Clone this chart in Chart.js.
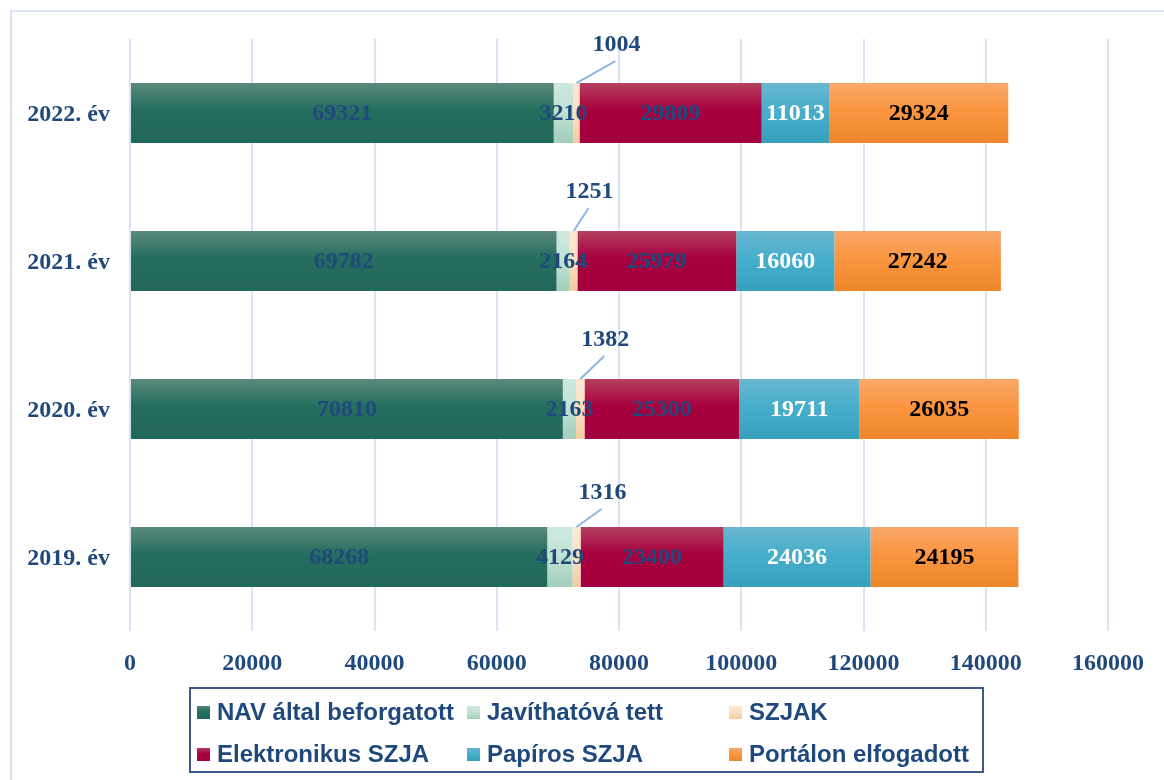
<!DOCTYPE html>
<html>
<head>
<meta charset="utf-8">
<script src="https://cdn.jsdelivr.net/npm/chart.js@4.4.0/dist/chart.umd.min.js"></script>
<style>
body { margin: 0; background: #fff; }
#frame { position: absolute; left: 10px; top: 10px; width: 1200px; height: 800px; border: 2px solid #dae3f3; }
#wrap { position: absolute; left: 0; top: 0; width: 1164px; height: 780px; }
</style>
</head>
<body>
<div id="frame"></div>
<div id="wrap"><canvas id="chart" width="1164" height="780"></canvas></div>
<script>
// Chart data
const years = ['2022. év', '2021. év', '2020. év', '2019. év'];
const seriesNames = ['NAV által beforgatott', 'Javíthatóvá tett', 'SZJAK', 'Elektronikus SZJA', 'Papíros SZJA', 'Portálon elfogadott'];
const navData = [69321, 69782, 70810, 68268];
const javitData = [3210, 2164, 2163, 4129];
const szjakData = [1004, 1251, 1382, 1316];
const elektData = [29809, 25979, 25300, 23400];
const papirData = [11013, 16060, 19711, 24036];
const portalData = [29324, 27242, 26035, 24195];
const xTicks = [0, 20000, 40000, 60000, 80000, 100000, 120000, 140000, 160000];

const BLUE = '#1f497d';
const SERIF = '"Liberation Serif", "Times New Roman", serif';
const SANS = '"Liberation Sans", Arial, sans-serif';
const BAR_PCT = 0.405;

// top / middle / bottom colours for the bar gradients
const palette = [
    ['#5a8a7c', '#246e5f', '#22685a'],
    ['#cde9dd', '#c2e3d5', '#a3cdbb'],
    ['#fde8d2', '#fde0c2', '#f2cda2'],
    ['#b4405f', '#a8003f', '#a5003f'],
    ['#6ab7d0', '#47aecb', '#389fbd'],
    ['#f9a76a', '#fb9641', '#ec8629']
];
const labelColors = [BLUE, BLUE, BLUE, BLUE, '#ffffff', '#000000'];

function barGradient(colors) {
    return function(ctx) {
        const chart = ctx.chart;
        const y = chart.scales && chart.scales.y;
        if (!chart.chartArea || !y || ctx.dataIndex === undefined) return colors[1];
        const c = y.getPixelForValue(ctx.dataIndex);
        const h = (y.height / years.length) * BAR_PCT / 2;
        const g = chart.ctx.createLinearGradient(0, c - h, 0, c + h);
        g.addColorStop(0, colors[0]);
        g.addColorStop(0.45, colors[1]);
        g.addColorStop(1, colors[2]);
        return g;
    };
}

const allSeries = [navData, javitData, szjakData, elektData, papirData, portalData];
const datasets = allSeries.map((d, i) => ({
    label: seriesNames[i],
    data: d,
    backgroundColor: barGradient(palette[i]),
    borderWidth: 0,
    barPercentage: BAR_PCT,
    categoryPercentage: 1
}));

// Value labels, with the small SZJAK values placed above the bar
const valueLabels = {
    id: 'valueLabels',
    afterDatasetsDraw(chart, args, opts) {
        const ctx = chart.ctx;
        ctx.save();
        ctx.font = 'bold 24px ' + SERIF;
        ctx.textAlign = 'center';
        ctx.textBaseline = 'middle';
        chart.data.datasets.forEach((ds, i) => {
            const meta = chart.getDatasetMeta(i);
            meta.data.forEach((el, j) => {
                const cx = (el.x + el.base) / 2;
                const val = ds.data[j];
                if (i === 2) {
                    const top = el.y - el.height / 2;
                    const lx = cx + opts.dx[j];
                    const ly = top - opts.dy[j];
                    ctx.strokeStyle = '#8eb4e3';
                    ctx.lineWidth = 2;
                    ctx.beginPath();
                    ctx.moveTo(lx - 1, ly + 16);
                    ctx.lineTo(cx, top);
                    ctx.stroke();
                    ctx.fillStyle = BLUE;
                    ctx.fillText(String(val), lx, ly);
                } else {
                    ctx.fillStyle = labelColors[i];
                    ctx.fillText(String(val), cx, el.y + 1);
                }
            });
        });
        ctx.restore();
    }
};

// Boxed legend in three columns
const boxLegend = {
    id: 'boxLegend',
    afterDraw(chart, args, opts) {
        const ctx = chart.ctx;
        ctx.save();
        ctx.strokeStyle = '#3a5a88';
        ctx.lineWidth = 2;
        ctx.strokeRect(opts.box[0], opts.box[1], opts.box[2], opts.box[3]);
        ctx.font = 'bold 24px ' + SANS;
        ctx.textBaseline = 'middle';
        ctx.textAlign = 'left';
        seriesNames.forEach((name, i) => {
            const x = opts.cols[i % 3];
            const y = opts.rows[Math.floor(i / 3)];
            const g = ctx.createLinearGradient(0, y - 7, 0, y + 7);
            g.addColorStop(0, palette[i][0]);
            g.addColorStop(0.5, palette[i][1]);
            g.addColorStop(1, palette[i][2]);
            ctx.fillStyle = g;
            ctx.fillRect(x, y - 6, 13, 13);
            ctx.fillStyle = BLUE;
            ctx.fillText(name, x + 20, y + 1);
        });
        ctx.restore();
    }
};

new Chart(document.getElementById('chart'), {
    type: 'bar',
    data: { labels: years, datasets: datasets },
    plugins: [valueLabels, boxLegend],
    options: {
        indexAxis: 'y',
        responsive: false,
        devicePixelRatio: 1,
        animation: false,
        layout: { padding: { left: 10, right: 56, top: 39, bottom: 99 } },
        scales: {
            x: {
                stacked: true,
                min: 0,
                max: 160000,
                afterBuildTicks: s => { s.ticks = xTicks.map(v => ({ value: v })); },
                afterFit: s => { s.height = 50; },
                grid: { color: '#dae3f3', lineWidth: 2, drawTicks: false },
                border: { display: false },
                ticks: {
                    padding: 18,
                    color: BLUE,
                    font: { family: SERIF, size: 24, weight: 'bold' },
                    callback: v => String(v)
                }
            },
            y: {
                stacked: true,
                afterFit: s => { s.width = 120; },
                grid: { display: false },
                border: { display: false },
                ticks: {
                    padding: 12,
                    labelOffset: 2,
                    color: BLUE,
                    font: { family: SERIF, size: 24, weight: 'bold' }
                }
            }
        },
        plugins: {
            legend: { display: false },
            tooltip: { enabled: false },
            valueLabels: { dx: [40, 16, 25, 26], dy: [38, 39, 39, 34] },
            boxLegend: { box: [190, 688, 793, 84], cols: [197, 467, 729], rows: [712, 754] }
        }
    }
});
</script>
</body>
</html>
